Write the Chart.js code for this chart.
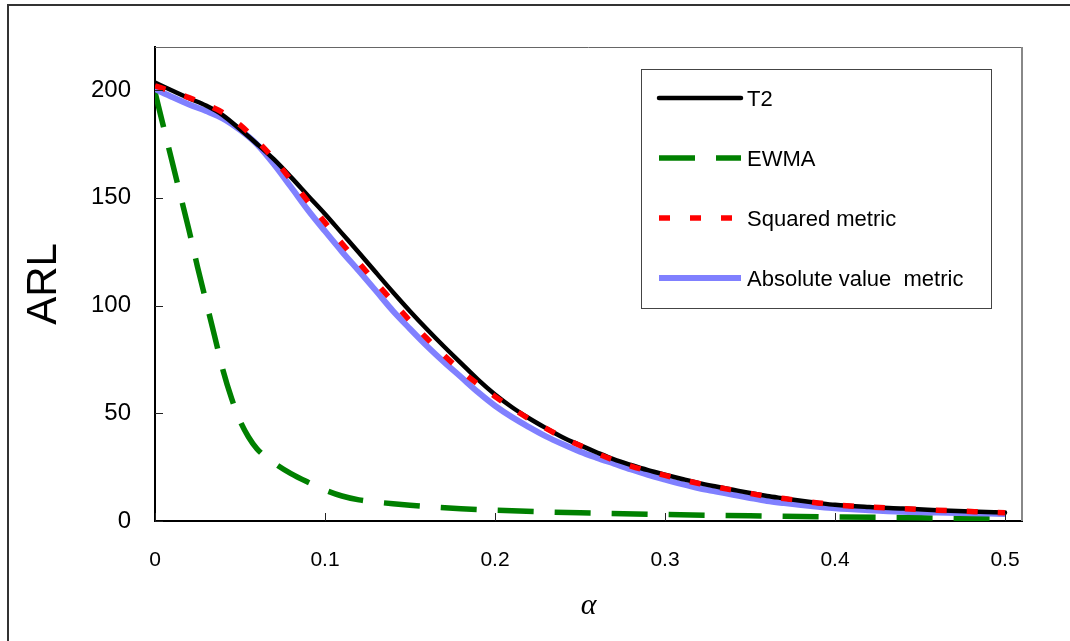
<!DOCTYPE html>
<html>
<head>
<meta charset="utf-8">
<script src="https://cdn.jsdelivr.net/npm/chart.js@4.4.1/dist/chart.umd.min.js"></script>
<style>
  body { margin: 0; background: #fff; }
  #wrap { width: 1070px; height: 641px; }
</style>
</head>
<body>
<div id="wrap"><canvas id="arlChart" width="1070" height="641"></canvas></div>
<script>
// alpha grid shared by the three smooth curves
const alpha = [
  0, 0.01, 0.02, 0.03, 0.04, 0.05, 0.06, 0.07, 0.08, 0.09,
  0.10, 0.11, 0.12, 0.13, 0.14, 0.15, 0.16, 0.17, 0.18, 0.19,
  0.20, 0.21, 0.22, 0.23, 0.24, 0.25, 0.26, 0.27, 0.28, 0.29,
  0.30, 0.31, 0.32, 0.33, 0.34, 0.35, 0.36, 0.37, 0.38, 0.39,
  0.40, 0.42, 0.44, 0.46, 0.48, 0.50
];
const t2 = [
  203.5, 199.8, 196.2, 192.8, 188.3, 181.8, 175.0, 167.8, 159.6, 151.0,
  142.5, 133.5, 124.5, 115.3, 106.2, 97.4, 89.0, 81.0, 73.3, 65.6,
  58.7, 52.8, 47.7, 43.1, 38.8, 35.2, 31.8, 28.6, 26.0, 23.6,
  21.5, 19.5, 17.6, 16.0, 14.5, 13.0, 11.6, 10.5, 9.4, 8.4,
  7.5, 6.5, 5.8, 5.0, 4.4, 3.9
];
const squared = [
  202.0, 199.3, 196.5, 193.3, 189.5, 183.8, 176.5, 168.0, 158.3, 148.3,
  138.5, 128.8, 119.8, 110.7, 101.7, 92.9, 84.7, 76.9, 69.8, 63.5,
  57.8, 52.4, 47.4, 43.0, 38.7, 35.0, 31.4, 28.2, 25.5, 23.2,
  21.2, 19.2, 17.4, 15.8, 14.3, 12.8, 11.4, 10.4, 9.4, 8.4,
  7.5, 6.5, 5.7, 5.0, 4.4, 3.8
];
const absolute = [
  200.5, 196.8, 193.3, 190.3, 186.8, 181.5, 174.8, 165.5, 155.0, 144.3,
  134.5, 125.0, 116.0, 106.8, 97.5, 89.2, 81.2, 73.8, 66.8, 59.8,
  53.5, 48.2, 43.6, 39.3, 35.6, 32.2, 29.3, 26.6, 23.9, 21.4,
  19.2, 17.1, 15.2, 13.7, 12.2, 10.7, 9.3, 8.3, 7.4, 6.6,
  5.9, 5.0, 4.3, 3.9, 3.6, 3.3
];
// EWMA drops fast, so it gets a finer grid near zero
const ewmaAlpha = [
  0, 0.005, 0.01, 0.015, 0.02, 0.025, 0.03, 0.035, 0.04, 0.045,
  0.05, 0.055, 0.06, 0.07, 0.08, 0.09, 0.10, 0.11, 0.12, 0.13,
  0.14, 0.15, 0.16, 0.18, 0.20, 0.25, 0.30, 0.35, 0.40, 0.45, 0.50
];
const ewma = [
  199, 183, 167, 151, 135, 118, 102, 86, 70, 57,
  46.5, 39, 33.5, 27, 22, 18, 14.4, 11.6, 9.8, 8.8,
  8.0, 7.3, 6.7, 5.7, 5.0, 3.8, 3.0, 2.4, 1.9, 1.5, 1.0
];
const xTicks = [0, 0.1, 0.2, 0.3, 0.4, 0.5];
const yTicks = [0, 50, 100, 150, 200];

const pts = (xs, ys) => xs.map((x, i) => ({ x: x, y: ys[i] }));
const FONT = "'Liberation Sans', Arial, sans-serif";

// outer frame, plot border, inside tick marks and the boxed legend
const decor = {
  id: 'decor',
  afterDraw(chart) {
    const ctx = chart.ctx;
    const a = chart.chartArea;
    const xs = chart.scales.x, ys = chart.scales.y;
    ctx.save();
    // outer frame (cut off on the right and bottom)
    ctx.strokeStyle = '#333';
    ctx.lineWidth = 2;
    ctx.beginPath();
    ctx.moveTo(8, 700); ctx.lineTo(8, 5); ctx.lineTo(1100, 5);
    ctx.stroke();
    // plot area top and right
    ctx.strokeStyle = '#666';
    ctx.lineWidth = 1;
    ctx.beginPath();
    ctx.moveTo(a.left, a.top + 0.5); ctx.lineTo(a.right, a.top + 0.5);
    ctx.stroke();
    ctx.strokeStyle = '#888';
    ctx.lineWidth = 2;
    ctx.beginPath();
    ctx.moveTo(a.right, a.top); ctx.lineTo(a.right, a.bottom);
    ctx.stroke();
    // tick marks inside
    ctx.strokeStyle = '#222';
    ctx.lineWidth = 1;
    ctx.beginPath();
    yTicks.forEach(v => {
      const y = Math.round(ys.getPixelForValue(v)) + 0.5;
      ctx.moveTo(a.left, y); ctx.lineTo(a.left + 8, y);
    });
    xTicks.forEach(v => {
      const x = Math.round(xs.getPixelForValue(v)) + 0.5;
      ctx.moveTo(x, a.bottom); ctx.lineTo(x, a.bottom - 8);
    });
    ctx.stroke();

    // legend
    const box = { x: 641, y: 69, w: 350, h: 239 };
    ctx.fillStyle = '#fff';
    ctx.fillRect(box.x, box.y, box.w, box.h);
    ctx.strokeStyle = '#444';
    ctx.lineWidth = 1;
    ctx.strokeRect(box.x + 0.5, box.y + 0.5, box.w, box.h);
    ctx.font = '22px ' + FONT;
    ctx.textBaseline = 'middle';
    ctx.textAlign = 'left';
    chart.data.datasets.forEach((ds, i) => {
      const y = 98 + i * 60;
      ctx.save();
      ctx.strokeStyle = ds.borderColor;
      ctx.lineWidth = ds.borderWidth;
      ctx.setLineDash(ds.borderDash || []);
      ctx.lineCap = ds.borderCapStyle || 'butt';
      ctx.beginPath();
      ctx.moveTo(659, y); ctx.lineTo(741, y);
      ctx.stroke();
      ctx.restore();
      ctx.fillStyle = '#000';
      ctx.fillText(ds.label, 747, y + 2);
    });
    ctx.restore();
  }
};

new Chart(document.getElementById('arlChart'), {
  type: 'line',
  data: {
    datasets: [
      {
        label: 'T2',
        data: pts(alpha, t2),
        borderColor: '#000000',
        borderWidth: 4.5,
        borderCapStyle: 'round',
        order: 1
      },
      {
        label: 'EWMA',
        data: pts(ewmaAlpha, ewma),
        borderColor: '#008000',
        borderWidth: 5.5,
        borderDash: [36, 21],
        order: 3
      },
      {
        label: 'Squared metric',
        data: pts(alpha, squared),
        borderColor: '#ff0000',
        borderWidth: 5.5,
        borderDash: [11, 20],
        order: 0
      },
      {
        label: 'Absolute value  metric',
        data: pts(alpha, absolute),
        borderColor: '#8080ff',
        borderWidth: 6,
        order: 2
      }
    ]
  },
  options: {
    responsive: false,
    animation: false,
    events: [],
    layout: { padding: { left: 0, top: 47, right: 48, bottom: 0 } },
    elements: {
      point: { radius: 0 },
      line: { fill: false, cubicInterpolationMode: 'monotone' }
    },
    scales: {
      x: {
        type: 'linear',
        min: 0,
        max: 0.51,
        afterFit(scale) { scale.height = 120; },
        border: { display: true, color: '#000', width: 2 },
        grid: { display: false, drawTicks: false },
        ticks: {
          stepSize: 0.1,
          includeBounds: false,
          padding: 27,
          color: '#000',
          font: { family: FONT, size: 21 },
          callback: v => String(+v.toFixed(1))
        },
        title: {
          display: true,
          text: 'α',
          color: '#000',
          font: { family: "'Liberation Serif', 'Times New Roman', serif", size: 30, style: 'italic' },
          padding: { top: 0, bottom: 17 }
        }
      },
      y: {
        min: 0,
        max: 220,
        afterFit(scale) { scale.width = 155; },
        border: { display: true, color: '#000', width: 2 },
        grid: { display: false, drawTicks: false },
        ticks: {
          stepSize: 50,
          includeBounds: false,
          padding: 24,
          color: '#000',
          font: { family: FONT, size: 24 }
        },
        title: {
          display: true,
          text: 'ARL',
          color: '#000',
          font: { family: FONT, size: 42 },
          padding: { top: 19, bottom: 0 }
        }
      }
    },
    plugins: {
      legend: { display: false },
      tooltip: { enabled: false }
    }
  },
  plugins: [decor]
});
</script>
</body>
</html>
